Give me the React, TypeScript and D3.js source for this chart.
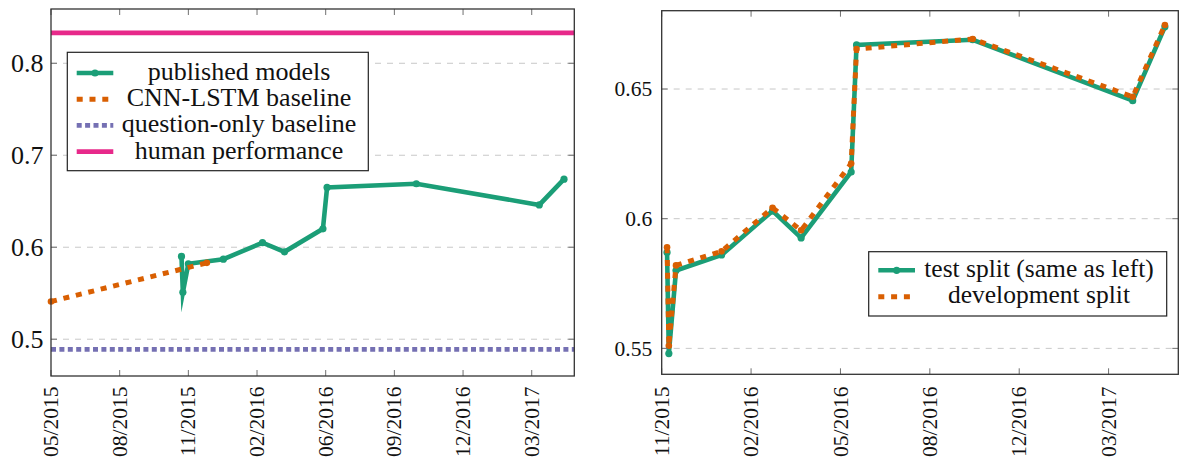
import React from "react";
import * as d3 from "d3";

// ---- data ----
const modelDates = [
  "2015-11-07", "2015-11-09", "2015-11-17", "2016-01-07", "2016-03-04", "2016-04-05",
  "2016-05-31", "2016-06-06", "2016-10-14", "2017-04-11", "2017-05-17",
];
const publishedModels = [0.590, 0.551, 0.582, 0.587, 0.605, 0.595, 0.620, 0.665, 0.669, 0.646, 0.674];
const testSplit = [0.587, 0.548, 0.580, 0.586, 0.603, 0.5926, 0.618, 0.667, 0.669, 0.6455, 0.674];
const devSplit = [0.589, 0.551, 0.582, 0.5874, 0.6042, 0.5955, 0.6213, 0.6654, 0.6693, 0.647, 0.6747];

const cnnLstmDates = ["2015-05-01", "2015-12-14"];
const cnnLstmValues = [0.541, 0.583];
const questionOnlyValue = 0.489;
const humanPerformanceValue = 0.833;

const leftYTicks = [0.5, 0.6, 0.7, 0.8];
const rightYTicks = [0.55, 0.6, 0.65];
const leftStartDate = "2015-05-01";
const rightStartDate = "2015-11-01";
const endDate = "2017-06-01";
const tickStepDays = 100;

const leftLegend = ["published models", "CNN-LSTM baseline", "question-only baseline", "human performance"];
const rightLegend = ["test split (same as left)", "development split"];

// ---- style ----
const GREEN = "#1b9e77";
const ORANGE = "#d95f02";
const PURPLE = "#7570b3";
const PINK = "#e7298a";
const FONT = '"Liberation Serif", "Times New Roman", Times, "DejaVu Serif", serif';

const parse = d3.utcParse("%Y-%m-%d");
const fmt = d3.utcFormat("%m/%Y");

type Pt = [Date, number];
const zip = (dates: string[], vals: number[]): Pt[] => dates.map((d, i) => [parse(d) as Date, vals[i]]);

function tickDates(start: string, end: string): Date[] {
  const s = parse(start) as Date;
  const e = parse(end) as Date;
  const out: Date[] = [];
  for (let k = 0; ; k++) {
    const d = d3.utcDay.offset(s, k * tickStepDays);
    if (d > e) break;
    out.push(d);
  }
  return out;
}

type Box = { left: number; right: number; top: number; bottom: number };

function Frame({ box, xs, ys }: { box: Box; xs: number[]; ys: number[] }) {
  const tl = 6;
  return (
    <g>
      {xs.map((x, i) => (
        <g key={"xt" + i} stroke="#707070" strokeWidth={1}>
          <line x1={x} x2={x} y1={box.bottom} y2={box.bottom - tl} />
          <line x1={x} x2={x} y1={box.top} y2={box.top + tl} />
        </g>
      ))}
      {ys.map((y, i) => (
        <g key={"yt" + i} stroke="#707070" strokeWidth={1}>
          <line x1={box.left} x2={box.left + tl} y1={y} y2={y} />
          <line x1={box.right} x2={box.right - tl} y1={y} y2={y} />
        </g>
      ))}
      <rect
        x={box.left}
        y={box.top}
        width={box.right - box.left}
        height={box.bottom - box.top}
        fill="none"
        stroke="#333"
        strokeWidth={1.3}
      />
    </g>
  );
}

function Grid({ box, ys }: { box: Box; ys: number[] }) {
  return (
    <g stroke="#c8c8c8" strokeWidth={1} strokeDasharray="6 6">
      {ys.map((y, i) => (
        <line key={i} x1={box.left} x2={box.right} y1={y} y2={y} />
      ))}
    </g>
  );
}

export default function App() {
  const W = 1181;
  const H = 461;

  // left panel
  const L: Box = { left: 51, right: 574.3, top: 9, bottom: 376 };
  const xL = d3.scaleUtc().domain([parse(leftStartDate) as Date, parse(endDate) as Date]).range([L.left, L.right]);
  const yL = d3.scaleLinear().domain([0.46, 0.859]).range([L.bottom, L.top]);
  const lineL = d3.line<Pt>().x((d) => xL(d[0])).y((d) => yL(d[1]));
  const leftTicks = tickDates(leftStartDate, endDate);
  const published = zip(modelDates, publishedModels);
  const cnnLstm = zip(cnnLstmDates, cnnLstmValues);

  // right panel
  const R: Box = { left: 661.7, right: 1178.3, top: 10.7, bottom: 374.3 };
  const xR = d3.scaleUtc().domain([parse(rightStartDate) as Date, parse(endDate) as Date]).range([R.left, R.right]);
  const yR = d3.scaleLinear().domain([0.54, 0.6802]).range([R.bottom, R.top]);
  const lineR = d3.line<Pt>().x((d) => xR(d[0])).y((d) => yR(d[1]));
  const rightTicks = tickDates(rightStartDate, endDate);
  const test = zip(modelDates, testSplit);
  const dev = zip(modelDates, devSplit);

  const labelTop = 386.5;

  const greenLine = { stroke: GREEN, strokeWidth: 4.6, fill: "none", strokeLinejoin: "miter" as const, strokeMiterlimit: 10 };
  const orangeLine = { stroke: ORANGE, strokeWidth: 5, fill: "none", strokeDasharray: "6 6.8" };
  const txt = { fontFamily: FONT } as React.CSSProperties;

  // legend geometry
  const lgL = { x: 67.3, y: 52.3, w: 301, h: 118.4, rows: [73, 99.2, 125.4, 151.6], s0: 76.7, s1: 113.3, tx: 239 };
  const lgR = { x: 868.7, y: 251.7, w: 298, h: 64.3, rows: [270.3, 296.8], s0: 878.3, s1: 915, tx: 1039 };

  return (
    <svg width={W} height={H} style={{ position: "absolute", left: 0, top: 0, display: "block" }}>
      <rect width={W} height={H} fill="#fff" />

      {/* ---------- left panel ---------- */}
      <Grid box={L} ys={leftYTicks.map((t) => yL(t))} />
      <line x1={L.left} x2={L.right} y1={yL(humanPerformanceValue)} y2={yL(humanPerformanceValue)} stroke={PINK} strokeWidth={4.6} />
      <line
        x1={L.left}
        x2={L.right}
        y1={yL(questionOnlyValue)}
        y2={yL(questionOnlyValue)}
        stroke={PURPLE}
        strokeWidth={4.6}
        strokeDasharray="5 3.4"
      />
      <path d={lineL(published) || ""} {...greenLine} />
      {published.map((d, i) => (
        <circle key={"pm" + i} cx={xL(d[0])} cy={yL(d[1])} r={3.6} fill={GREEN} />
      ))}
      <path d={lineL(cnnLstm) || ""} {...orangeLine} />
      {cnnLstm.map((d, i) => (
        <circle key={"cl" + i} cx={xL(d[0])} cy={yL(d[1])} r={3.3} fill={ORANGE} />
      ))}
      <Frame box={L} xs={leftTicks.map((d) => xL(d))} ys={leftYTicks.map((t) => yL(t))} />
      {leftYTicks.map((t, i) => (
        <text key={"ly" + i} x={L.left - 7.5} y={yL(t)} dy="0.34em" textAnchor="end" fontSize={26} fill="#111" style={txt}>
          {String(t)}
        </text>
      ))}
      {leftTicks.map((d, i) => (
        <text
          key={"lx" + i}
          transform={`translate(${xL(d)},${labelTop}) rotate(-90)`}
          textAnchor="end"
          dy="0.33em"
          fontSize={21.5}
          fill="#111"
          style={txt}
        >
          {fmt(d)}
        </text>
      ))}

      {/* left legend */}
      <rect x={lgL.x} y={lgL.y} width={lgL.w} height={lgL.h} fill="#fff" stroke="#222" strokeWidth={1.2} />
      <line x1={lgL.s0} x2={lgL.s1} y1={lgL.rows[0]} y2={lgL.rows[0]} stroke={GREEN} strokeWidth={4.6} />
      <circle cx={(lgL.s0 + lgL.s1) / 2} cy={lgL.rows[0]} r={3.6} fill={GREEN} />
      <line x1={lgL.s0} x2={lgL.s1} y1={lgL.rows[1]} y2={lgL.rows[1]} stroke={ORANGE} strokeWidth={5} strokeDasharray="6 6.8" />
      <line x1={lgL.s0} x2={lgL.s1} y1={lgL.rows[2]} y2={lgL.rows[2]} stroke={PURPLE} strokeWidth={4.6} strokeDasharray="5 3.4" />
      <line x1={lgL.s0} x2={lgL.s1} y1={lgL.rows[3]} y2={lgL.rows[3]} stroke={PINK} strokeWidth={4.6} />
      {leftLegend.map((t, i) => (
        <text key={"ll" + i} x={lgL.tx} y={lgL.rows[i] + 7} textAnchor="middle" fontSize={26} fill="#111" style={txt}>
          {t}
        </text>
      ))}

      {/* ---------- right panel ---------- */}
      <Grid box={R} ys={rightYTicks.map((t) => yR(t))} />
      <path d={lineR(test) || ""} {...greenLine} />
      {test.map((d, i) => (
        <circle key={"ts" + i} cx={xR(d[0])} cy={yR(d[1])} r={3.6} fill={GREEN} />
      ))}
      <path d={lineR(dev) || ""} {...orangeLine} />
      {dev.map((d, i) => (
        <circle key={"dv" + i} cx={xR(d[0])} cy={yR(d[1])} r={3.3} fill={ORANGE} />
      ))}
      <Frame box={R} xs={rightTicks.map((d) => xR(d))} ys={rightYTicks.map((t) => yR(t))} />
      {rightYTicks.map((t, i) => (
        <text key={"ry" + i} x={R.left - 9.5} y={yR(t)} dy="0.34em" textAnchor="end" fontSize={21.5} fill="#111" style={txt}>
          {String(t)}
        </text>
      ))}
      {rightTicks.map((d, i) => (
        <text
          key={"rx" + i}
          transform={`translate(${xR(d)},${labelTop}) rotate(-90)`}
          textAnchor="end"
          dy="0.33em"
          fontSize={21.5}
          fill="#111"
          style={txt}
        >
          {fmt(d)}
        </text>
      ))}

      {/* right legend */}
      <rect x={lgR.x} y={lgR.y} width={lgR.w} height={lgR.h} fill="#fff" stroke="#222" strokeWidth={1.2} />
      <line x1={lgR.s0} x2={lgR.s1} y1={lgR.rows[0]} y2={lgR.rows[0]} stroke={GREEN} strokeWidth={4.6} />
      <circle cx={(lgR.s0 + lgR.s1) / 2} cy={lgR.rows[0]} r={3.6} fill={GREEN} />
      <line x1={lgR.s0} x2={lgR.s1} y1={lgR.rows[1]} y2={lgR.rows[1]} stroke={ORANGE} strokeWidth={5} strokeDasharray="6 6.8" />
      {rightLegend.map((t, i) => (
        <text key={"rl" + i} x={lgR.tx} y={lgR.rows[i] + 6.3} textAnchor="middle" fontSize={25.5} fill="#111" style={txt}>
          {t}
        </text>
      ))}
    </svg>
  );
}
